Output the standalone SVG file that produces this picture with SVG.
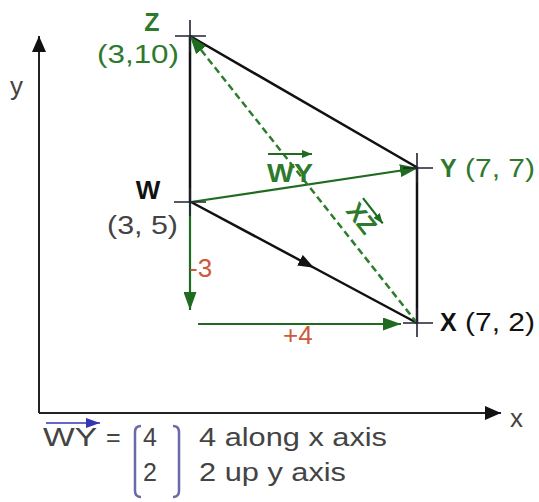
<svg xmlns="http://www.w3.org/2000/svg" width="539" height="502" viewBox="0 0 539 502">
<style>
.ax{stroke:#222;stroke-width:2;fill:none}
.blk{stroke:#111;stroke-width:2.5;fill:none}
.grn{stroke:#1f6b1f;stroke-width:2.2;fill:none}
.dash{stroke:#2e7d2e;stroke-width:2.5;fill:none;stroke-dasharray:7 4}
.tick{stroke:#223;stroke-width:1.6;fill:none}
.t{font-family:"Liberation Sans",Arial,sans-serif}
.gl{fill:#2d7a2d}
.bl{fill:#111}
.rd{fill:#cc5a3a}
.gy{fill:#444}
</style>
<defs>
<marker id="ga" markerWidth="10" markerHeight="8" refX="10" refY="4" orient="auto" markerUnits="userSpaceOnUse" viewBox="0 0 10 8"><path d="M0,0 L10,4 L0,8 Z" fill="#1f6b1f"/></marker>
<marker id="gb" markerWidth="18" markerHeight="13" refX="18" refY="6.5" orient="auto" markerUnits="userSpaceOnUse" viewBox="0 0 18 13"><path d="M0,0 L18,6.5 L0,13 Z" fill="#1f6b1f"/></marker>
<marker id="ka" markerWidth="16" markerHeight="12" refX="8" refY="6" orient="auto" markerUnits="userSpaceOnUse" viewBox="0 0 16 12"><path d="M0,0 L16,6 L0,12 Z" fill="#111"/></marker>
<marker id="axa" markerWidth="16" markerHeight="14" refX="16" refY="7" orient="auto" markerUnits="userSpaceOnUse" viewBox="0 0 16 14"><path d="M0,0 L16,7 L0,14 Z" fill="#111"/></marker>
<marker id="ba" markerWidth="14" markerHeight="10" refX="14" refY="5" orient="auto" markerUnits="userSpaceOnUse" viewBox="0 0 14 10"><path d="M0,0 L14,5 L0,10 Z" fill="#3535b5"/></marker>
</defs>

<g id="axes">
<path class="ax" d="M39,413 L39,36" marker-end="url(#axa)"/>
<path class="ax" d="M39,413 L501,413" marker-end="url(#axa)"/>
<text class="t gy" x="10" y="95" font-size="26">y</text>
<text class="t gy" x="510" y="427" font-size="26">x</text>
</g>

<g id="connectors">
<path class="blk" d="M190,36 L418,168"/>
<path class="blk" d="M417,168 L417,323"/>
<path class="blk" d="M190,36 L190,203"/>
<path class="blk" d="M191,202 L307,264 L417,323" marker-mid="url(#ka)"/>
<path class="grn" d="M191,202 L418,168" marker-end="url(#gb)"/>
<path class="dash" d="M417,323 L190,36" marker-end="url(#gb)"/>
<path class="grn" d="M190,203 L190,310" marker-end="url(#gb)"/>
<path class="grn" d="M198,324 L401,324" marker-end="url(#gb)"/>
</g>

<g id="node-Z">
<path class="tick" d="M175,36 L206,36 M190,20 L190,52"/>
<text class="t gl" x="152" y="31" font-size="25" font-weight="bold" text-anchor="middle">Z</text>
<text class="t gl" x="97" y="63" font-size="26" textLength="82" lengthAdjust="spacingAndGlyphs">(3,10)</text>
</g>

<g id="node-W">
<path class="tick" d="M174,202 L206,202 M190,188 L190,216"/>
<text class="t bl" x="148" y="199" font-size="26" font-weight="bold" text-anchor="middle">W</text>
<text class="t gy" x="107" y="234" font-size="26" textLength="71" lengthAdjust="spacingAndGlyphs">(3, 5)</text>
</g>

<g id="node-Y">
<path class="tick" d="M403,168 L433,168 M417,153 L417,183"/>
<text class="t gl" x="440" y="177" font-size="25" font-weight="bold">Y</text>
<text class="t gl" x="465" y="177" font-size="25" textLength="70" lengthAdjust="spacingAndGlyphs">(7, 7)</text>
</g>

<g id="node-X">
<path class="tick" d="M403,323 L433,323 M417,308 L417,337"/>
<text class="t bl" x="440" y="331" font-size="25" font-weight="bold">X</text>
<text class="t bl" x="465" y="331" font-size="25" textLength="70" lengthAdjust="spacingAndGlyphs">(7, 2)</text>
</g>

<g id="label-WY">
<path class="grn" d="M268,154 L312,154" marker-end="url(#ga)"/>
<text class="t gl" x="267" y="182" font-size="25" font-weight="bold" textLength="46" lengthAdjust="spacingAndGlyphs">WY</text>
</g>

<g id="label-XZ" transform="translate(362,218) rotate(52)">
<path class="grn" d="M-15,-13 L17,-13" marker-end="url(#ga)"/>
<text class="t gl" x="0" y="9" font-size="25" font-weight="bold" text-anchor="middle">XZ</text>
</g>

<g id="label-steps">
<text class="t rd" x="189" y="277" font-size="26">-3</text>
<text class="t rd" x="283" y="344" font-size="26">+4</text>
</g>

<g id="formula">
<path d="M46,423 L100,423" stroke="#3535b5" stroke-width="1.5" marker-end="url(#ba)"/>
<text class="t gy" x="43" y="446" font-size="25" textLength="54" lengthAdjust="spacingAndGlyphs">WY</text>
<text class="t gy" x="106" y="446" font-size="25">=</text>
<path d="M141,426 Q135,426 135,432 L135,491 Q135,497 141,497" stroke="#6a6aaa" stroke-width="2.5" fill="none"/>
<path d="M173,426 Q179,426 179,432 L179,491 Q179,497 173,497" stroke="#6a6aaa" stroke-width="2.5" fill="none"/>
<text class="t gy" x="143" y="446" font-size="25">4</text>
<text class="t gy" x="143" y="481" font-size="25">2</text>
<text class="t gy" x="199" y="446" font-size="25" textLength="188" lengthAdjust="spacingAndGlyphs">4 along x axis</text>
<text class="t gy" x="199" y="481" font-size="25" textLength="147" lengthAdjust="spacingAndGlyphs">2 up y axis</text>
</g>
</svg>
